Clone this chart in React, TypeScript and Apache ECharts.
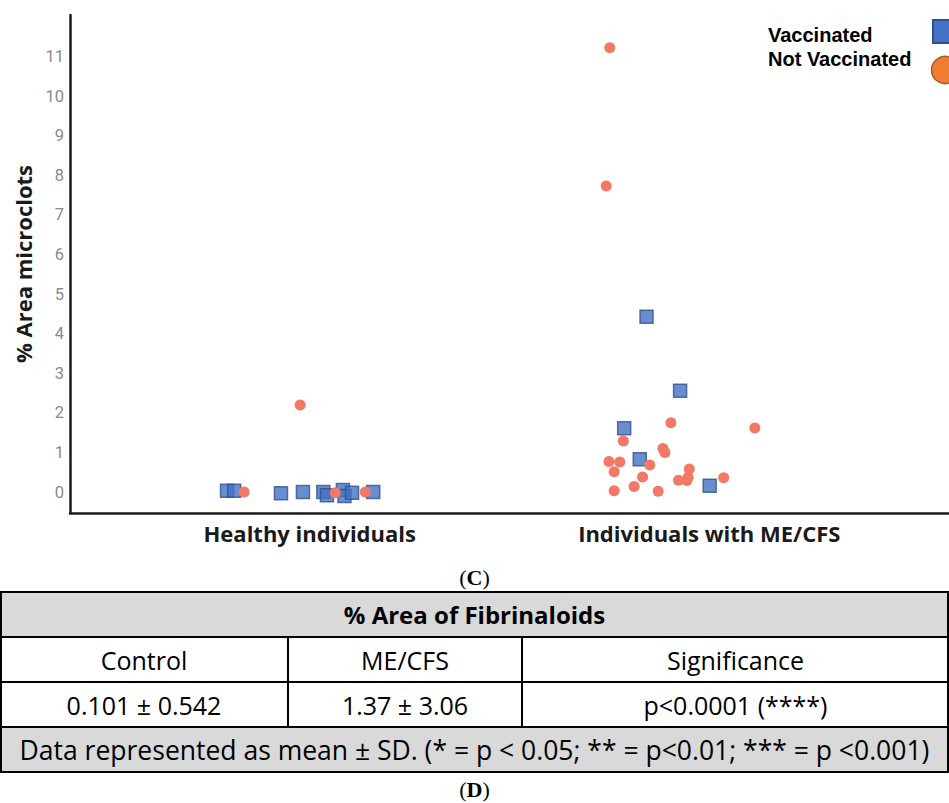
import React, { useEffect, useRef } from "react";
import * as echarts from "echarts";

const categories = ["Healthy individuals", "Individuals with ME/CFS"];
const categoryPositions = [1, 2];
const yTickValues = [0, 1, 2, 3, 4, 5, 6, 7, 8, 9, 10, 11];

// Vaccinated (squares): x = jittered group position, y = % area
const vaccinatedX = [0.793, 0.811, 0.928, 0.983, 1.034, 1.043, 1.083, 1.087, 1.106, 1.159, 1.843, 1.927, 1.787, 1.826, 2.001];
const vaccinatedY = [0.03, 0.03, -0.03, 0.0, 0.0, -0.08, 0.05, -0.1, -0.02, 0.0, 4.43, 2.56, 1.61, 0.83, 0.16];

// Not vaccinated (circles)
const notVaccinatedX = [0.976, 0.836, 1.064, 1.139, 1.751, 1.742, 1.904, 2.114, 1.785, 1.884, 1.889, 1.749, 1.776, 1.851, 1.762, 1.95, 1.833, 1.947, 1.923, 1.944, 2.036, 1.762, 1.812, 1.872];
const notVaccinatedY = [2.2, 0.0, -0.02, 0.0, 11.22, 7.73, 1.75, 1.62, 1.29, 1.1, 1.0, 0.77, 0.76, 0.68, 0.51, 0.58, 0.38, 0.37, 0.3, 0.29, 0.36, 0.03, 0.14, 0.02];

const legendLabels = ["Vaccinated", "Not Vaccinated"];
const yAxisName = "% Area microclots";

const tableTitle = "% Area of Fibrinaloids";
const tableHeaders = ["Control", "ME/CFS", "Significance"];
const tableValues = ["0.101 ± 0.542", "1.37 ± 3.06", "p<0.0001 (****)"];
const tableFootnote = "Data represented as mean ± SD. (* = p < 0.05; ** = p<0.01; *** = p <0.001)";
const panelLabels = ["C", "D"];

export default function App() {
  const ref = useRef<HTMLDivElement>(null);
  useEffect(() => {
    if (!ref.current) return;
    const chart = echarts.init(ref.current, null, { renderer: "svg" });
    const W = 949;
    const tableFont = "'Open Sans', sans-serif";
    const colX = [0, 288, 522, 949];
    const rowY = [592, 637, 682, 727, 772];
    const lineStyle = { stroke: "#000", lineWidth: 2 };
    const serif = "'Liberation Serif', 'Times New Roman', serif";
    const legendFont = "bold 20px 'Liberation Sans', Arial, sans-serif";
    const graphic: any[] = [
      // legend
      { type: "text", x: 768, y: 35, style: { text: legendLabels[0], font: legendFont, fill: "#000", verticalAlign: "middle" } },
      { type: "text", x: 768, y: 59, style: { text: legendLabels[1], font: legendFont, fill: "#000", verticalAlign: "middle" } },
      { type: "rect", shape: { x: 933, y: 20, width: 24, height: 23 }, style: { fill: "#4472C4", stroke: "#2F528F", lineWidth: 2 } },
      { type: "circle", shape: { cx: 945, cy: 70, r: 13.5 }, style: { fill: "#ED7D31", stroke: "#AE5A21", lineWidth: 1.5 } },
      // (C)
      {
        type: "text", x: W / 2, y: 577,
        style: {
          text: "{p|(}{b|" + panelLabels[0] + "}{p|)}", align: "center", verticalAlign: "middle",
          rich: {
            p: { fontFamily: serif, fontSize: 22, fill: "#000" },
            b: { fontFamily: serif, fontSize: 22, fontWeight: "bold", fill: "#000" },
          },
        },
      },
      // table backgrounds
      { type: "rect", shape: { x: 0, y: rowY[0], width: W, height: rowY[1] - rowY[0] }, style: { fill: "#D9D9D9" } },
      { type: "rect", shape: { x: 0, y: rowY[3], width: W, height: rowY[4] - rowY[3] }, style: { fill: "#D9D9D9" } },
    ];
    rowY.forEach((y) => graphic.push({ type: "line", shape: { x1: 0, y1: y, x2: W, y2: y }, style: lineStyle }));
    graphic.push({ type: "line", shape: { x1: 1, y1: rowY[0], x2: 1, y2: rowY[4] }, style: lineStyle });
    graphic.push({ type: "line", shape: { x1: W - 1, y1: rowY[0], x2: W - 1, y2: rowY[4] }, style: lineStyle });
    [colX[1], colX[2]].forEach((x) =>
      graphic.push({ type: "line", shape: { x1: x, y1: rowY[1], x2: x, y2: rowY[3] }, style: lineStyle })
    );
    graphic.push({
      type: "text", x: W / 2, y: (rowY[0] + rowY[1]) / 2,
      style: { text: tableTitle, font: "bold 24px " + tableFont, fill: "#000", align: "center", verticalAlign: "middle" },
    });
    tableHeaders.forEach((h, i) => {
      const cx = (colX[i] + colX[i + 1]) / 2;
      graphic.push({ type: "text", x: cx, y: (rowY[1] + rowY[2]) / 2, style: { text: h, font: "25px " + tableFont, fill: "#000", align: "center", verticalAlign: "middle" } });
      graphic.push({ type: "text", x: cx, y: (rowY[2] + rowY[3]) / 2, style: { text: tableValues[i], font: "25px " + tableFont, fill: "#000", align: "center", verticalAlign: "middle" } });
    });
    graphic.push({
      type: "text", x: W / 2, y: (rowY[3] + rowY[4]) / 2,
      style: { text: tableFootnote, font: "26.5px " + tableFont, fill: "#000", align: "center", verticalAlign: "middle" },
    });
    graphic.push({
      type: "text", x: W / 2, y: 789,
      style: {
        text: "{p|(}{b|" + panelLabels[1] + "}{p|)}", align: "center", verticalAlign: "middle",
        rich: {
          p: { fontFamily: serif, fontSize: 22, fill: "#000" },
          b: { fontFamily: serif, fontSize: 22, fontWeight: "bold", fill: "#000" },
        },
      },
    });

    chart.setOption({
      animation: false,
      backgroundColor: "#fff",
      grid: { left: 70, right: 0, top: 15, bottom: 803 - 513, containLabel: false },
      xAxis: {
        type: "value",
        min: 0.4,
        max: 2.6,
        splitLine: { show: false },
        axisTick: { show: false },
        axisLine: { show: true, onZero: false, lineStyle: { color: "#1a1a1a", width: 2.5 } },
        axisLabel: {
          customValues: categoryPositions,
          formatter: (v: number) => {
            const i = categoryPositions.indexOf(Math.round(v));
            return i >= 0 ? categories[i] : "";
          },
          fontFamily: "'Open Sans', sans-serif",
          fontWeight: "bold",
          fontSize: 22,
          color: "#1a1a1a",
          margin: 9,
        },
      },
      yAxis: {
        type: "value",
        min: -0.53,
        max: 12.05,
        name: yAxisName,
        nameLocation: "middle",
        nameGap: 36,
        nameTextStyle: { fontFamily: "'Open Sans', sans-serif", fontWeight: "bold", fontSize: 22, color: "#1a1a1a" },
        splitLine: { show: false },
        axisTick: { show: false },
        axisLine: { show: true, onZero: false, lineStyle: { color: "#1a1a1a", width: 2.5 } },
        axisLabel: {
          customValues: yTickValues,
          fontFamily: "Roboto, sans-serif",
          fontSize: 16.5,
          color: "#8a8a8a",
          margin: 6,
        },
      },
      graphic,
      series: [
        {
          name: legendLabels[0],
          type: "scatter",
          symbol: "rect",
          symbolSize: 13,
          itemStyle: { color: "#4472C4", borderColor: "#2F528F", borderWidth: 1.5 },
          data: vaccinatedX.map((x, i) => [x, vaccinatedY[i]]),
          z: 2,
        },
        {
          name: legendLabels[1],
          type: "scatter",
          symbol: "circle",
          symbolSize: 11,
          itemStyle: { color: "#F47866", opacity: 1 },
          data: notVaccinatedX.map((x, i) => [x, notVaccinatedY[i]]),
          z: 3,
        },
      ],
    });
    return () => chart.dispose();
  }, []);
  return <div ref={ref} style={{ position: "absolute", left: 0, top: 0, width: 949, height: 803 }} />;
}
